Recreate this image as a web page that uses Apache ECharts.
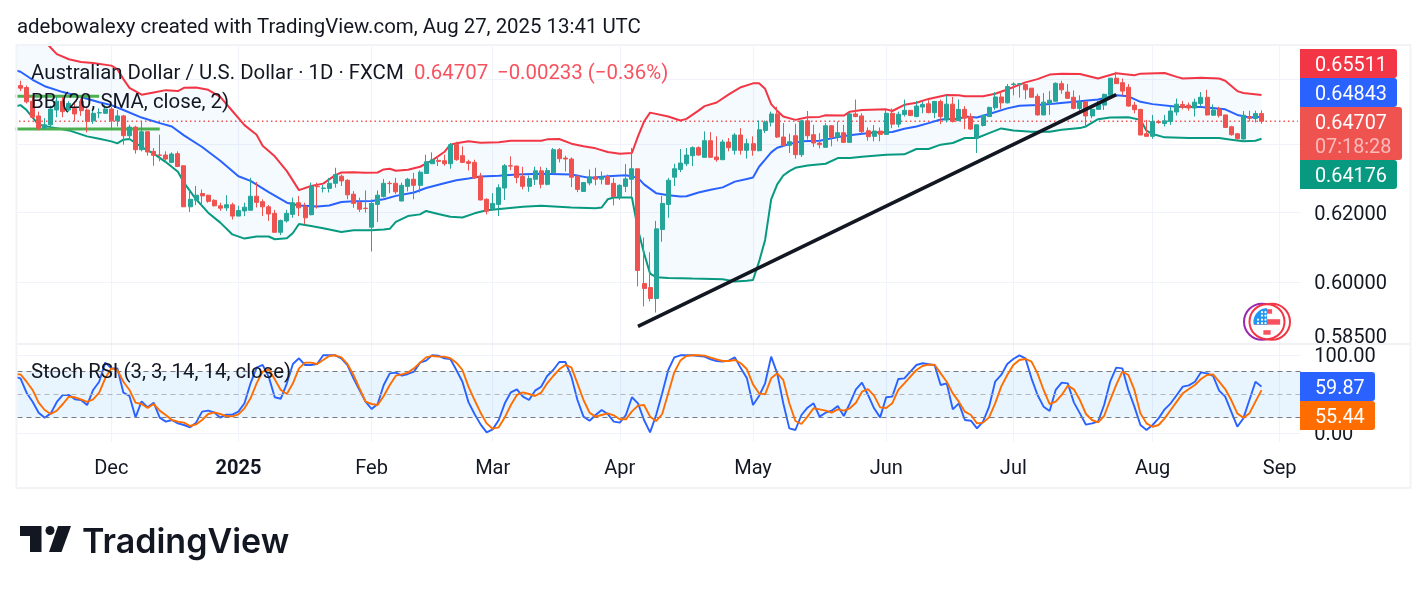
<!DOCTYPE html>
<html>
<head>
<meta charset="utf-8">
<title>AUD/USD daily</title>
<script src="https://cdn.jsdelivr.net/npm/echarts@6/dist/echarts.min.js"></script>
<style>
  html, body { margin: 0; padding: 0; background: #fff; }
  #chart { width: 1428px; height: 591px; }
</style>
</head>
<body>
<div id="chart"></div>
<script>
// Daily AUD/USD bars: [open, close, low, high]
const candles = [
[.6580,.6572,.6563,.6595],[.6574,.6530,.6525,.6580],[.6532,.6483,.6479,.6547],[.6487,.6450,.6443,.6500],
[.6450,.6460,.6447,.6480],[.6460,.6508,.6453,.6518],[.6505,.6532,.6483,.6545],[.6532,.6500,.6483,.6545],
[.6505,.6525,.6500,.6532],[.6510,.6493,.6471,.6530],[.6532,.6503,.6487,.6540],[.6505,.6470,.6437,.6510],
[.6472,.6495,.6463,.6510],[.6496,.6497,.6480,.6510],[.6495,.6508,.6493,.6520],[.6508,.6472,.6445,.6515],
[.6472,.6487,.6455,.6505],[.6487,.6427,.6400,.6490],[.6427,.6453,.6415,.6460],[.6453,.6385,.6373,.6457],
[.6385,.6439,.6380,.6472],[.6439,.6378,.6367,.6440],[.6380,.6368,.6337,.6390],[.6369,.6368,.6350,.6430],
[.6369,.6357,.6345,.6380],[.6347,.6372,.6345,.6377],[.6373,.6335,.6333,.6380],[.6337,.6216,.6216,.6337],
[.6216,.6238,.6201,.6267],[.6235,.6250,.6221,.6277],[.6255,.6248,.6220,.6267],[.6250,.6232,.6228,.6251],
[.6235,.6219,.6217,.6238],[.6219,.6212,.6204,.6228],[.6213,.6222,.6204,.6250],[.6222,.6189,.6179,.6228],
[.6189,.6205,.6189,.6219],[.6204,.6215,.6189,.6228],[.6206,.6247,.6206,.6301],[.6247,.6229,.6214,.6289],
[.6231,.6216,.6189,.6238],[.6216,.6195,.6175,.6221],[.6197,.6142,.6142,.6207],[.6142,.6176,.6134,.6179],
[.6175,.6197,.6170,.6207],[.6194,.6228,.6184,.6243],[.6228,.6213,.6189,.6248],[.6216,.6184,.6165,.6228],
[.6193,.6276,.6191,.6287],[.6276,.6275,.6211,.6287],[.6270,.6271,.6258,.6280],[.6270,.6285,.6258,.6301],
[.6285,.6311,.6272,.6331],[.6306,.6292,.6277,.6311],[.6294,.6251,.6238,.6297],[.6253,.6226,.6213,.6262],
[.6229,.6209,.6201,.6243],[.6212,.6211,.6199,.6264],[.6157,.6226,.6087,.6238],[.6223,.6250,.6172,.6264],
[.6246,.6285,.6243,.6298],[.6285,.6284,.6256,.6292],[.6285,.6260,.6253,.6301],[.6233,.6279,.6232,.6287],
[.6276,.6297,.6261,.6301],[.6297,.6279,.6238,.6316],[.6279,.6318,.6258,.6323],[.6314,.6349,.6313,.6370],
[.6343,.6355,.6342,.6377],[.6353,.6350,.6336,.6365],[.6352,.6343,.6337,.6370],[.6343,.6400,.6328,.6405],
[.6401,.6355,.6352,.6409],[.6367,.6347,.6345,.6395],[.6349,.6344,.6323,.6355],[.6347,.6301,.6298,.6355],
[.6306,.6236,.6235,.6316],[.6238,.6203,.6194,.6241],[.6211,.6226,.6207,.6256],[.6223,.6272,.6189,.6282],
[.6271,.6337,.6236,.6342],[.6337,.6336,.6324,.6365],[.6336,.6302,.6285,.6337],[.6305,.6276,.6267,.6334],
[.6276,.6299,.6260,.6308],[.6297,.6322,.6280,.6334],[.6322,.6282,.6270,.6334],[.6282,.6323,.6279,.6331],
[.6316,.6385,.6316,.6390],[.6385,.6358,.6347,.6390],[.6360,.6357,.6320,.6367],[.6357,.6303,.6274,.6362],
[.6306,.6267,.6259,.6311],[.6261,.6287,.6261,.6289],[.6286,.6304,.6279,.6326],[.6304,.6297,.6279,.6331],
[.6297,.6304,.6282,.6320],[.6305,.6282,.6282,.6311],[.6285,.6246,.6220,.6301],[.6246,.6279,.6236,.6282],
[.6276,.6298,.6259,.6342],[.6297,.6328,.6243,.6390],[.6328,.6033,.5988,.6328],[.5996,.5982,.5932,.6127],
[.5985,.5954,.5946,.6085],[.5954,.6152,.5915,.6175],[.6150,.6226,.6115,.6248],[.6223,.6294,.6184,.6301],
[.6303,.6328,.6277,.6343],[.6326,.6345,.6318,.6387],[.6343,.6369,.6336,.6390],[.6367,.6391,.6336,.6395],
[.6391,.6369,.6367,.6395],[.6362,.6412,.6362,.6440],[.6412,.6362,.6361,.6438],[.6363,.6355,.6349,.6425],
[.6355,.6408,.6355,.6415],[.6408,.6391,.6380,.6420],[.6383,.6429,.6370,.6435],[.6429,.6383,.6370,.6450],
[.6383,.6403,.6358,.6418],[.6403,.6383,.6367,.6425],[.6382,.6445,.6380,.6473],[.6443,.6469,.6435,.6473],
[.6468,.6493,.6455,.6500],[.6493,.6423,.6420,.6515],[.6423,.6398,.6393,.6465],[.6398,.6409,.6375,.6433],
[.6427,.6370,.6358,.6463],[.6370,.6472,.6363,.6475],[.6472,.6427,.6415,.6502],[.6430,.6405,.6393,.6460],
[.6405,.6400,.6389,.6435],[.6392,.6457,.6392,.6465],[.6457,.6422,.6395,.6459],[.6422,.6436,.6410,.6470],
[.6436,.6407,.6405,.6460],[.6407,.6493,.6407,.6500],[.6493,.6485,.6483,.6537],[.6487,.6439,.6433,.6495],
[.6442,.6424,.6412,.6452],[.6425,.6441,.6410,.6459],[.6441,.6431,.6410,.6452],[.6431,.6495,.6430,.6505],
[.6495,.6462,.6450,.6510],[.6462,.6492,.6452,.6500],[.6491,.6504,.6485,.6537],[.6504,.6488,.6487,.6505],
[.6485,.6517,.6483,.6533],[.6514,.6522,.6495,.6530],[.6524,.6497,.6495,.6535],[.6497,.6531,.6480,.6533],
[.6531,.6485,.6462,.6537],[.6475,.6523,.6467,.6550],[.6523,.6470,.6467,.6545],[.6473,.6507,.6471,.6537],
[.6507,.6480,.6447,.6517],[.6485,.6447,.6445,.6495],[.6420,.6460,.6375,.6460],[.6458,.6489,.6455,.6490],
[.6485,.6513,.6485,.6515],[.6512,.6545,.6505,.6560],[.6545,.6527,.6508,.6560],[.6527,.6577,.6525,.6585],
[.6583,.6585,.6550,.6590],[.6584,.6586,.6543,.6588],[.6583,.6567,.6538,.6585],[.6572,.6544,.6544,.6572],
[.6547,.6490,.6488,.6555],[.6490,.6529,.6489,.6557],[.6525,.6535,.6490,.6563],[.6532,.6587,.6530,.6590],
[.6586,.6567,.6555,.6595],[.6560,.6541,.6539,.6585],[.6544,.6510,.6507,.6565],[.6510,.6530,.6500,.6550],
[.6530,.6487,.6453,.6532],[.6487,.6507,.6480,.6520],[.6507,.6523,.6507,.6535],[.6520,.6553,.6505,.6555],
[.6550,.6603,.6537,.6603],[.6603,.6586,.6585,.6623],[.6589,.6563,.6550,.6602],[.6575,.6517,.6515,.6585],
[.6520,.6506,.6495,.6530],[.6507,.6429,.6429,.6507],[.6433,.6425,.6425,.6475],[.6425,.6470,.6418,.6490],
[.6470,.6467,.6463,.6475],[.6464,.6472,.6455,.6490],[.6470,.6502,.6460,.6515],[.6499,.6523,.6488,.6540],
[.6522,.6513,.6507,.6533],[.6520,.6511,.6503,.6528],[.6511,.6529,.6485,.6540],[.6525,.6544,.6515,.6560],
[.6544,.6490,.6488,.6567],[.6489,.6505,.6488,.6522],[.6508,.6488,.6482,.6515],[.6490,.6452,.6451,.6490],
[.6454,.6430,.6427,.6457],[.6433,.6418,.6415,.6435],[.6417,.6489,.6415,.6502],[.6485,.6480,.6470,.6503],
[.6479,.6494,.6467,.6503],[.6494,.64707,.6463,.6504]
];

// Bollinger Bands read bar by bar: [bar, price]
const upperBand = [
[-1,.679],[0,.678],[3,.6741],[5,.6698],[6,.6678],[8,.6662],[10,.6653],[12,.665],[15,.6642],[16,.6631],[17,.66],[18,.6573],[20,.6552],[22,.6559],[24,.6566],[26,.6563],[27,.6573],[29,.6574],[31,.6567],[33,.6545],[35,.6502],[37,.6459],[39,.643],[40,.6397],[42,.6365],[44,.6321],[46,.6265],[48,.6277],[50,.6284],[52,.6309],
[53,.6317],[55,.6318],[57,.6316],[59,.6317],[60,.6326],[61,.6328],[62,.6322],[64,.6325],[66,.6334],[68,.6353],[70,.6378],[71,.64],[72,.6404],[74,.641],[76,.6406],[79,.6407],[81,.6412],[86,.6412],[87,.6416],[89,.6417],[91,.6403],[93,.6395],[95,.6389],[97,.6378],[99,.6373],[101,.6375],[102,.6425],[103,.647],[104,.6497],[107,.6485],
[109,.6473],[110,.6478],[112,.6503],[113,.6517],[115,.6528],[117,.6553],[119,.6575],[121,.6587],[122,.6587],[123,.657],[124,.6523],[125,.6503],[126,.6485],[128,.6475],[130,.6483],[132,.6484],[133,.6489],[136,.6488],[137,.65],[139,.6505],[143,.6507],[144,.6502],[146,.6521],[148,.6527],[150,.6539],[153,.6551],[155,.655],
[156,.6547],[159,.6547],[161,.6555],[163,.6568],[166,.659],[168,.66],[170,.6614],[172,.6617],[175,.6616],[178,.6602],[181,.6618],[184,.6612],[185,.6617],[189,.6619],[191,.6607],[192,.6602],[195,.6604],[198,.6602],[199,.6595],[201,.6563],[202,.6557],[205,.65511]
];
const basisBand = [
[-1,.6628],[0,.6623],[2,.6598],[4,.6578],[7,.656],[10,.6545],[13,.6529],[15,.652],[17,.6505],[20,.6482],[23,.6465],[25,.6455],[27,.6428],[30,.6393],[33,.6352],[36,.6306],[38,.6292],[41,.6259],[44,.6228],[46,.622],[49,.6217],[51,.622],
[53,.623],[55,.6232],[58,.6233],[60,.6238],[62,.6248],[65,.6258],[67,.6271],[70,.6285],[72,.6294],[74,.6299],[76,.6305],[79,.6307],[82,.6311],[86,.6313],[91,.6311],[94,.6301],[97,.6306],[100,.6309],[102,.6301],[103,.6282],[105,.6256],
[107,.625],[109,.6246],[110,.6247],[112,.6258],[114,.6266],[116,.6273],[118,.629],[120,.6298],[121,.6302],[122,.6334],[123,.6355],[124,.6377],[125,.6391],[127,.6402],[129,.641],[132,.6412],[134,.6419],[136,.6426],[138,.6431],[141,.6437],[144,.6438],[146,.6448],[148,.6455],[150,.6465],[152,.6476],[155,.6478],
[156,.6485],[158,.6482],[160,.6493],[163,.651],[165,.6518],[168,.652],[171,.6525],[175,.6532],[178,.6537],[181,.655],[183,.6547],[185,.653],[187,.6523],[191,.6515],[195,.6514],[199,.6507],[201,.649],[203,.6482],[205,.64843]
];
const lowerBand = [
[-1,.6515],[0,.652],[1,.6505],[3,.646],[5,.6453],[8,.6443],[11,.6425],[13,.6418],[15,.641],[16,.6404],[17,.6415],[18,.6417],[20,.6393],[22,.6373],[24,.6348],[26,.6319],[27,.6287],[29,.6238],[31,.6199],[33,.617],[35,.6136],[37,.6124],[39,.613],[41,.613],[42,.6122],[44,.6125],[45,.614],[46,.6166],[48,.616],[50,.6154],
[53,.6143],[55,.6148],[58,.6148],[60,.615],[61,.6152],[62,.6172],[64,.6189],[66,.6194],[67,.6204],[69,.6195],[71,.6187],[73,.6185],[75,.6197],[77,.6206],[80,.6211],[83,.6216],[86,.6219],[91,.6214],[95,.6212],[96,.6214],[97,.6238],[98,.6243],[101,.6243],[102,.615],[103,.6082],[104,.6024],[105,.6014],[107,.6012],
[111,.601],[116,.6008],[118,.6002],[120,.6004],[121,.6006],[122,.6058],[123,.612],[124,.6238],[125,.6282],[126,.6308],[127,.6321],[128,.6331],[130,.6338],[133,.6343],[135,.636],[137,.636],[139,.6364],[143,.637],[146,.6371],[148,.6387],[150,.6387],[152,.64],[154,.6405],
[156,.642],[158,.642],[160,.6435],[162,.6449],[164,.6443],[167,.6439],[170,.6439],[172,.6445],[175,.645],[176,.6455],[178,.6477],[180,.6482],[183,.6483],[185,.6475],[186,.6442],[187,.6432],[189,.6422],[193,.642],[198,.642],[200,.6415],[202,.641],[204,.6412],[205,.64176]
];

// Stochastic RSI, one value per bar; the lead values sit just before the first bar
const stochKLead = 72.6;
const stochDLead = 75.6;
const stochK = [
70.5,52.1,40.6,26.5,20.1,25.6,40.2,49.2,49.2,43.6,42.7,36.3,55.6,66.2,90.6,83.3,83.3,52.1,47.9,20.5,
41,33.3,39.3,20.1,15,17.1,12.8,10.7,7.7,13.7,27.8,29.1,26.9,20.1,23.9,23.9,27.8,38.5,64.1,84.2,
87.6,72.7,46.2,44.4,64.1,88.9,96.2,87.6,87.6,88.9,100,100,100,96.2,87.6,70.5,55.6,40.6,31.2,37.6,
62,76.9,77.8,73.9,76.1,79.1,90.6,93.2,100,99.6,96.2,95.3,81.2,66.2,40,24.8,11.5,1.3,5.1,17.1,
38.5,52.6,56.4,47,42.7,54.7,59.8,73.5,81.2,91.5,91.5,72.7,42.7,21.4,16.2,23.5,29.9,24.8,15,13.7,
23.5,46.2,38.5,17.1,1.3,23.5,51.3,81.2,97.4,100,100,100,99.2,98.3,94.9,92.7,91.9,93.2,97.4,83.3,
70.5,36.3,47.9,64.1,98.3,76.9,38.5,6.4,4.3,23.5,32.9,38.5,21.4,26.5,29.1,35,22.2,38.5,56.4,65,
49.2,32.1,20.5,46.2,47,69.7,70.5,79.1,87.6,89.8,88.5,87.2,62,64.1,30.8,38.5,17.1,16.2,6.4,15,
34.2,66.2,74.8,88.9,95.3,100,96.2,70.5,49.2,34.2,28.6,55.6,65,64.1,39.7,25.6,11.1,12.8,15,36.3,
66.2,84.2,83.3,55.6,34.2,10.7,4.3,10.7,19.2,30.8,38.5,49.2,59.8,61.5,66.2,78.2,76.9,73.5,54.7,47,
27.8,8.5,19.2,42.7,66.2,59.87
];
const stochD = [
75.6,66.2,55.6,39.3,29.9,24.8,29.1,37.6,47,46.2,43.6,40.2,43.6,52.1,70.5,83.3,81.2,66.2,55.6,39.3,
37.6,32.5,37.6,29.1,23.5,17.1,15,13.7,9.4,11.5,17.1,24.8,26.9,24.8,22.2,21.8,24.4,32.1,44.9,64.1,
79.1,82.1,69.2,55.6,50.4,64.1,83.3,90.6,90.6,88.9,94,99.2,100,97.4,88.9,74.8,57.7,40.6,37.6,36.3,
47.9,62,73.9,75.6,77.8,83.3,90.6,97.4,99.2,98.3,98.3,96.2,90.6,81.2,59.8,42.7,26.5,12.8,6,7.7,
20.5,36.3,49.2,52.6,50.4,47.9,52.1,64.1,73.5,82.1,87.6,84.6,64.1,42.7,26.5,21.4,23.5,25.6,23.1,18,
18,28.2,35.5,36.3,21.4,15.8,24.8,51.3,78.2,93.2,99.2,100,100,99.6,97,94.9,92.7,92.7,94,89.8,
82.1,62.8,51.3,50,70.5,76.9,68.4,38.5,15.8,12,21.4,32.1,30.8,29.1,26.5,30.8,29.1,32.1,39.3,53.4,
56.8,48.3,33.3,32.5,38.5,55.6,64.1,72.7,81.2,86.3,88,88,76.9,66.2,51.3,40.6,27.8,23.5,12.8,13.7,
20.5,38.5,59.8,74.8,87.6,94,95.3,91.9,76.9,55.6,37.6,40.6,49.2,61.1,56.4,42.7,24.8,17.1,14.1,22.2,
42.7,62,79.1,74.8,55.6,25.6,12.8,8.5,10.7,19.2,29.9,40.6,51.3,56.8,62,69.7,74.8,75.6,66.2,56.8,
42.7,25.6,20.1,25.6,40.6,55.44
];

// Hand-drawn chart annotations
const supportLineA = [[-1,.6547],[13,.6547]];
const supportLineB = [[-1,.6447],[23,.6447]];
const trendLine = [[102,.5877],[181,.6552]];

const lastClose = .64707;
const lastCloseLine = [[-1,lastClose],[211,lastClose]];
const priceGrid = [.60,.62,.64,.66];
const priceLabels = [.62,.60,.585];
const stochGrid = [0,100];
const tickBars = [15,36,58,78,99,121,143,164,187,208];
const tickLabels = ['Dec','2025','Feb','Mar','Apr','May','Jun','Jul','Aug','Sep'];
const futureSlots = 6;

const INK = '#131722', GRID = '#f0f3fa', FONT = 'Roboto';
const UP = '#26a69a', DOWN = '#ef5350';
const barSlots = candles.map((_, i) => String(i));
for (let i = 0; i < futureSlots; i++) barSlots.push(String(candles.length + i));

const withLead = (lead, values) => [[-1, lead]].concat(values.map((v, i) => [i, v]));

const chart = echarts.init(document.getElementById('chart'), null, { renderer: 'canvas' });

function timeAxis(gridIndex, withLabels) {
  return {
    type: 'category', gridIndex, data: barSlots, boundaryGap: true,
    axisLine: { show: false }, axisTick: { show: false },
    axisLabel: {
      show: withLabels, interval: (i) => tickBars.includes(i), margin: 17,
      color: INK, fontFamily: FONT, fontSize: 20,
      formatter: (v) => {
        const t = tickLabels[tickBars.indexOf(+v)] || '';
        return t === '2025' ? '{y|' + t + '}' : t;
      },
      rich: { y: { fontWeight: 'bold', color: INK, fontFamily: FONT, fontSize: 20 } }
    },
    splitLine: {
      show: true, interval: (i) => tickBars.includes(i), alignWithLabel: true,
      lineStyle: { color: GRID, width: 1 }
    }
  };
}

function lineOf(name, data, color, width, z, type) {
  return {
    name, type: 'line', data, xAxisIndex: 0, yAxisIndex: 0, symbol: 'none', z,
    silent: true, animation: false, clip: true,
    lineStyle: { color, width, type: type || 'solid' }, itemStyle: { color }
  };
}

function priceBox(y, h, w, fill, label) {
  return [
    { type: 'rect', z: 50, shape: { x: 1300, y, width: w, height: h, r: [0, 3, 3, 0] }, style: { fill } },
    { type: 'text', z: 51, x: 1315, y: y + h / 2 + 2.5, style: { text: label, fill: '#fff', font: '19.8px Roboto', textVerticalAlign: 'middle' } }
  ];
}

function caption(text, x, y, fill, font) {
  return { type: 'text', z: 60, x, y, style: { text, fill, font: font || '20.4px Roboto', textVerticalAlign: 'middle' } };
}

// Round flag badge with its two offset rings
function flagBadge(cx, cy) {
  const r = 13.5, parts = [];
  const stripe = (y0, y1, fill) => {
    const half = (y) => Math.sqrt(Math.max(0, r * r - (y - cy) * (y - cy)));
    const w = Math.min(half(y0), half(y1));
    parts.push({ type: 'rect', z: 42, shape: { x: cx - w, y: y0, width: 2 * w, height: y1 - y0 }, style: { fill } });
  };
  parts.push({ type: 'circle', z: 40, shape: { cx: cx - 5, cy, r: 18 }, style: { fill: '#fff', stroke: '#9c27b0', lineWidth: 2 } });
  parts.push({ type: 'circle', z: 40, shape: { cx: cx + 5, cy, r: 18 }, style: { fill: '#fff', stroke: '#f23645', lineWidth: 2 } });
  parts.push({ type: 'circle', z: 41, shape: { cx, cy, r: 17.5 }, style: { fill: '#fff', stroke: '#f23645', lineWidth: 2 } });
  parts.push({ type: 'circle', z: 41, shape: { cx, cy, r }, style: { fill: '#fff' } });
  stripe(cy - 12.5, cy - 8, '#f7525f');
  stripe(cy - 2.5, cy + 3, '#f7525f');
  stripe(cy + 8.5, cy + 13, '#f7525f');
  const canton = [[cx, cy + 3], [cx, cy - r]];
  for (let a = 90; a <= 193; a += 6) {
    const t = a * Math.PI / 180;
    canton.push([cx + r * Math.cos(t), cy - r * Math.sin(t)]);
  }
  parts.push({ type: 'polygon', z: 43, shape: { points: canton }, style: { fill: '#2196f3' } });
  [[-9, -2], [-5, -2], [-1.5, -2], [-9, 1.5], [-5, 1.5], [-1.5, 1.5], [-5, -6], [-1.5, -6], [-5, -9.5], [-1.5, -9.5]].forEach(([dx, dy]) => {
    parts.push({ type: 'circle', z: 44, shape: { cx: cx + dx, cy: cy + dy, r: 1.1 }, style: { fill: '#fff' } });
  });
  return parts;
}

const graphic = [
  // Page margin around the pane frame, so plot lines stop at its edge
  { type: 'rect', z: 20, silent: true, shape: { x: 0, y: 34, width: 1428, height: 10 }, style: { fill: '#fff' } },
  { type: 'rect', z: 20, silent: true, shape: { x: 0, y: 34, width: 15.5, height: 460 }, style: { fill: '#fff' } },
  { type: 'rect', z: 21, silent: true, shape: { x: 16.5, y: 45, width: 1394, height: 443 }, style: { fill: 'none', stroke: '#f1f3f6', lineWidth: 2 } },
  { type: 'line', z: 1, silent: true, shape: { x1: 17, y1: 344, x2: 1411, y2: 344 }, style: { stroke: '#e0e3eb', lineWidth: 1 } },

  caption('adebowalexy created with TradingView.com, Aug 27, 2025 13:41 UTC', 17, 28, INK),
  caption('Australian Dollar / U.S. Dollar · 1D · FXCM', 31, 74, INK),
  caption('0.64707', 414, 74, '#f7525f'),
  caption('−0.00233 (−0.36%)', 497, 74, '#f7525f'),
  caption('BB (20, SMA, close, 2)', 31, 103, INK),
  caption('Stoch RSI (3, 3, 14, 14, close)', 31, 372.5, INK),

  ...priceBox(49, 29, 97, '#f23645', '0.65511'),
  ...priceBox(78, 29, 97, '#2962ff', '0.64843'),
  { type: 'rect', z: 50, shape: { x: 1300, y: 107, width: 102, height: 53, r: [0, 3, 3, 0] }, style: { fill: '#ef5350' } },
  { type: 'text', z: 51, x: 1315, y: 124, style: { text: '0.64707', fill: '#fff', font: '19.8px Roboto', textVerticalAlign: 'middle' } },
  { type: 'text', z: 51, x: 1315, y: 148, style: { text: '07:18:28', fill: 'rgba(255,255,255,.6)', font: '19.8px Roboto', textVerticalAlign: 'middle' } },
  ...priceBox(160, 29, 97, '#089981', '0.64176'),
  ...priceBox(372, 29, 75, '#2962ff', '59.87'),
  ...priceBox(401, 29, 75, '#ff6d00', '55.44'),

  ...flagBadge(1267, 321.7),

  // Wordmark beneath the frame
  { type: 'polygon', z: 60, shape: { points: [[20, 526], [41.5, 526], [41.5, 552], [30, 552], [30, 536], [20, 536]] }, style: { fill: '#131722' } },
  { type: 'circle', z: 60, shape: { cx: 50, cy: 530.5, r: 4.5 }, style: { fill: '#131722' } },
  { type: 'polygon', z: 60, shape: { points: [[58, 526], [71, 526], [61.5, 552], [49, 552]] }, style: { fill: '#131722' } },
  { type: 'text', z: 60, x: 82, y: 543, style: { text: 'TradingView', fill: '#131722', font: '600 34px Inter', textVerticalAlign: 'middle' } }
];

const bandFill = {
  type: 'custom', xAxisIndex: 0, yAxisIndex: 0, z: 1, silent: true, clip: true,
  data: [[0, lastClose]],
  renderItem: (params, api) => ({
    type: 'polygon',
    shape: { points: upperBand.map((p) => api.coord(p)).concat(lowerBand.slice().reverse().map((p) => api.coord(p))) },
    style: { fill: 'rgba(33,150,243,.05)' }
  })
};

const option = {
  animation: false,
  backgroundColor: '#ffffff',
  textStyle: { fontFamily: FONT },
  graphic,
  grid: [
    { left: 17.47, top: 45, width: 1283.4, height: 299, containLabel: false },
    { left: 17.47, top: 344, width: 1283.4, height: 97.7, containLabel: false }
  ],
  xAxis: [timeAxis(0, false), timeAxis(1, true)],
  yAxis: [
    {
      type: 'log', gridIndex: 0, position: 'right', logBase: 10, min: .58283, max: .67066,
      axisLine: { show: false },
      axisTick: { show: false, customValues: priceGrid },
      axisLabel: {
        customValues: priceLabels, inside: false, margin: 13.5, color: INK,
        verticalAlign: 'top', lineHeight: 4.4,
        fontFamily: FONT, fontSize: 20, formatter: (v) => Number(v).toFixed(5)
      },
      splitLine: { show: true, lineStyle: { color: GRID, width: 1 } },
      minorSplitLine: { show: false }
    },
    {
      type: 'value', gridIndex: 1, position: 'right', min: -10.7, max: 114.5,
      axisLine: { show: false },
      axisTick: { show: false, customValues: stochGrid },
      axisLabel: {
        customValues: stochGrid, margin: 13.5, color: INK, fontFamily: FONT, fontSize: 20,
        verticalAlign: 'top', lineHeight: 3,
        formatter: (v) => Number(v).toFixed(2)
      },
      splitLine: { show: true, lineStyle: { color: GRID, width: 1 } }
    }
  ],
  series: [
    bandFill,
    lineOf('Last close', lastCloseLine, '#ef5350', 1.5, 2, [1.5, 3]),
    lineOf('Upper', upperBand, '#f23645', 2, 3),
    lineOf('Basis', basisBand, '#2962ff', 2, 3),
    lineOf('Lower', lowerBand, '#089981', 2, 3),
    lineOf('Support A', supportLineA, '#4caf50', 3, 3),
    lineOf('Support B', supportLineB, '#4caf50', 3, 3),
    {
      name: 'AUDUSD', type: 'candlestick', data: candles, xAxisIndex: 0, yAxisIndex: 0, z: 5,
      barWidth: 4.5, silent: true,
      itemStyle: { color: UP, color0: DOWN, borderColor: UP, borderColor0: DOWN, borderWidth: 1 }
    },
    lineOf('Trend', trendLine, '#131722', 3.6, 8),
    {
      name: '%K', type: 'line', data: withLead(stochKLead, stochK), xAxisIndex: 1, yAxisIndex: 1, symbol: 'none', z: 4, silent: true,
      lineStyle: { color: '#2962ff', width: 1.9 },
      markArea: {
        silent: true, animation: false, itemStyle: { color: 'rgba(33,150,243,.1)' }, label: { show: false },
        data: [[{ yAxis: 20 }, { yAxis: 80 }]]
      },
      markLine: {
        silent: true, symbol: 'none', animation: false, label: { show: false },
        data: [
          { yAxis: 80, lineStyle: { color: '#787b86', type: [5, 4], width: 1 } },
          { yAxis: 50, lineStyle: { color: '#b2b5be', type: [5, 4], width: 1 } },
          { yAxis: 20, lineStyle: { color: '#787b86', type: [5, 4], width: 1 } }
        ]
      }
    },
    {
      name: '%D', type: 'line', data: withLead(stochDLead, stochD), xAxisIndex: 1, yAxisIndex: 1, symbol: 'none', z: 5, silent: true,
      lineStyle: { color: '#ff6d00', width: 1.9 }
    }
  ]
};

chart.setOption(option);
</script>
</body>
</html>
